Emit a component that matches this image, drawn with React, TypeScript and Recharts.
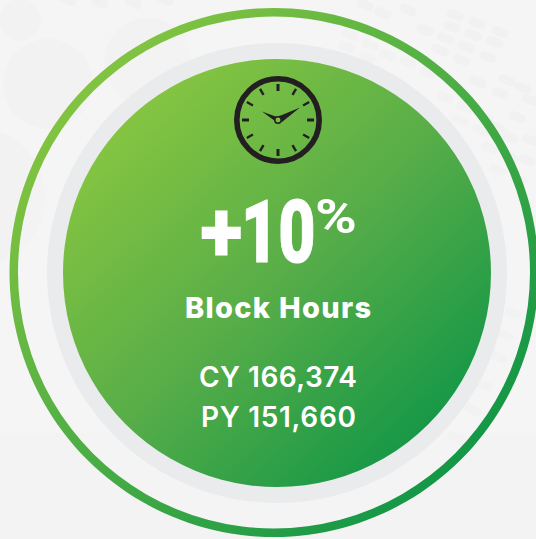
import { PieChart, Pie } from 'recharts';

const changePct = ['+', '10', '%'];
const metricName = 'Block Hours';
const yearLabels = ['CY', 'PY'];
const yearValues = [166374, 151660];
const fullCircle = [{ name: 'ring', value: 100 }];
const clockTickHours = [0, 1, 2, 3, 4, 5, 6, 7, 8, 9, 10, 11];

const CX = 277;
const CY = 273;
const CLOCK_X = 278;
const CLOCK_Y = 120;

// faint decoration behind the rings: [cx, cy, r]
const bgCircles = [
  [20, 20, 21],
  [48, 84, 45],
  [148, 62, 44],
  [-25, 197, 70],
];

// faint rounded dashes, top and right of the picture: [cx, cy]
const bgDashes = [
  [68, 0], [100, 3], [133, 3], [165, 0],
  [455, 15], [477, 23], [500, 32], [452, 27], [473, 35], [495, 42],
  [425, 30], [445, 38], [467, 47], [488, 57], [440, 50], [462, 60],
  [388, 55], [408, 63], [428, 73], [370, 45], [350, 35], [347, 47], [367, 57],
  [383, 13], [365, 5], [408, 10],
  [478, 82], [507, 80], [500, 93], [523, 88], [445, 97], [465, 107], [485, 117],
  [460, 120], [480, 130], [517, 117], [497, 127], [530, 100], [510, 137],
  [490, 148], [510, 157], [530, 140], [527, 160], [498, 170], [518, 180],
  [513, 313], [499, 357], [484, 385], [473, 410], [456, 437], [505, 335],
];

function Clock() {
  return (
    <g>
      <circle cx={CLOCK_X} cy={CLOCK_Y} r={41.2} fill="none" stroke="#231f20" strokeWidth={5.6} />
      {clockTickHours.map((h) => {
        const major = h % 3 === 0;
        const a = (h * Math.PI) / 6;
        return (
          <line
            key={h}
            x1={CLOCK_X + Math.sin(a) * 29}
            y1={CLOCK_Y - Math.cos(a) * 29}
            x2={CLOCK_X + Math.sin(a) * 36}
            y2={CLOCK_Y - Math.cos(a) * 36}
            stroke="#231f20"
            strokeWidth={major ? 3 : 2.4}
          />
        );
      })}
      <path
        d={`M${CLOCK_X - 16} ${CLOCK_Y - 8.5} L${CLOCK_X - 1} ${CLOCK_Y - 3} L${CLOCK_X + 3} ${CLOCK_Y - 1} L${CLOCK_X + 3} ${CLOCK_Y + 2} L${CLOCK_X - 3} ${CLOCK_Y + 1} Z`}
        fill="#231f20"
      />
      <path
        d={`M${CLOCK_X + 22} ${CLOCK_Y - 12.5} L${CLOCK_X + 4} ${CLOCK_Y + 2} L${CLOCK_X - 2} ${CLOCK_Y - 3} L${CLOCK_X + 4} ${CLOCK_Y - 5} Z`}
        fill="#231f20"
      />
      <circle cx={CLOCK_X} cy={CLOCK_Y} r={3.2} fill="#7dbf45" stroke="#231f20" strokeWidth={1.5} />
    </g>
  );
}

export default function App() {
  return (
    <div style={{ position: 'fixed', left: 0, top: 0, width: 536, height: 539, background: '#f5f5f5', overflow: 'hidden' }}>
      <PieChart width={536} height={539} margin={{ top: 0, right: 0, bottom: 0, left: 0 }}>
        <defs>
          <linearGradient id="discFill" gradientUnits="userSpaceOnUse" x1={130} y1={120} x2={430} y2={440}>
            <stop offset="0%" stopColor="#84c441" />
            <stop offset="50%" stopColor="#57ad48" />
            <stop offset="100%" stopColor="#149747" />
          </linearGradient>
          <linearGradient id="ringFill" gradientUnits="userSpaceOnUse" x1={80} y1={80} x2={460} y2={460}>
            <stop offset="0%" stopColor="#84c441" />
            <stop offset="100%" stopColor="#149747" />
          </linearGradient>
        </defs>
        <rect x={0} y={433} width={536} height={106} fill="#f3f3f3" />
        {bgCircles.map(([x, y, r], i) => (
          <circle key={i} cx={x} cy={y} r={r} fill="#f2f2f2" />
        ))}
        {bgDashes.map(([x, y], i) => (
          <rect key={i} x={x - 9} y={y - 4.5} width={18} height={9} rx={4.5} fill="#f1f1f1" transform={`rotate(22 ${x} ${y})`} />
        ))}
        <Pie data={fullCircle} dataKey="value" cx={274} cy={272.5} innerRadius={0} outerRadius={256} startAngle={90} endAngle={-270} fill="#ffffff" fillOpacity={0.08} stroke="none" isAnimationActive={false} />
        <Pie data={fullCircle} dataKey="value" cx={274} cy={272.5} innerRadius={256} outerRadius={264.5} startAngle={90} endAngle={-270} fill="url(#ringFill)" stroke="none" isAnimationActive={false} />
        <Pie data={fullCircle} dataKey="value" cx={CX} cy={CY} innerRadius={0} outerRadius={230} startAngle={90} endAngle={-270} fill="#e9ebec" stroke="none" isAnimationActive={false} />
        <Pie data={fullCircle} dataKey="value" cx={CX} cy={CY} innerRadius={0} outerRadius={214} startAngle={90} endAngle={-270} fill="url(#discFill)" stroke="none" isAnimationActive={false} />
      </PieChart>
      {/* pies paint over svg children, so clock and text sit in their own layer */}
      <svg width={536} height={539} style={{ position: 'absolute', left: 0, top: 0 }}>
        <Clock />
        <g fill="#ffffff" fontFamily="Inter, sans-serif">
          <text transform="translate(200 262) scale(0.92 1)" fontFamily="Roboto" fontWeight={900} fontSize={87}>
            {changePct[0]}
          </text>
          <text transform="translate(241 262) scale(0.74 1)" fontFamily="Roboto" fontWeight={900} fontSize={87} stroke="#ffffff" strokeWidth={1}>
            {changePct[1]}
          </text>
          <text transform="translate(315 233) scale(1.18 1)" fontFamily="Roboto" fontWeight={700} fontSize={48}>
            {changePct[2]}
          </text>
          <text x={185} y={318} fontWeight={800} fontSize={29} textLength={186}>
            {metricName}
          </text>
          {yearLabels.map((label, i) => (
            <text key={label} x={i === 0 ? 199 : 201} y={387 + i * 40} fontWeight={600} fontSize={28} textLength={i === 0 ? 158 : 155}>
              {`${label} ${yearValues[i].toLocaleString('en-US')}`}
            </text>
          ))}
        </g>
      </svg>
    </div>
  );
}
